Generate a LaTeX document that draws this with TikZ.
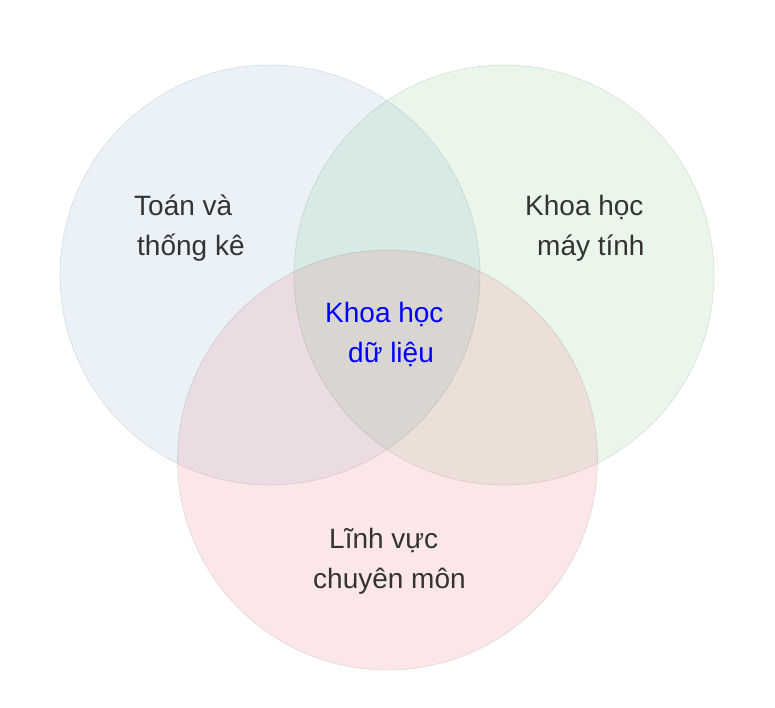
\documentclass[tikz,border=0pt]{standalone}
\usepackage{fontspec}
\setmainfont{Liberation Sans}
\definecolor{cblue}{RGB}{31,119,180}
\definecolor{cgreen}{RGB}{44,160,44}
\definecolor{cred}{RGB}{230,40,50}
\definecolor{txt}{RGB}{51,51,51}
\begin{document}
\begin{tikzpicture}[x=1pt,y=-1pt,
  venn/.style={circle, minimum size=420pt, inner sep=0pt, fill opacity=0.095, draw=black, draw opacity=0.1, line width=0.7pt},
  lbl/.style={anchor=base west, inner sep=0pt, text=txt, font=\fontsize{28}{34}\selectfont},
  clbl/.style={lbl, text=blue}]
\useasboundingbox (0,0) rectangle (775,707);
\node[venn, fill=cblue] (math) at (270,275) {};
\node[venn, fill=cgreen] (cs) at (504,275) {};
\node[venn, fill=cred, fill opacity=0.11] (dom) at (387.5,460) {};
\node[lbl] (m1) at (134,215) {Toán và};
\node[lbl] (m2) at (137,255) {thống kê};
\node[lbl] (c1) at (525,215) {Khoa học};
\node[lbl] (c2) at (537,255) {máy tính};
\node[clbl] (d1) at (325,322) {Khoa học};
\node[clbl] (d2) at (348,362) {dữ liệu};
\node[lbl] (e1) at (329,548) {Lĩnh vực};
\node[lbl] (e2) at (313,588) {chuyên môn};
\end{tikzpicture}
\end{document}
